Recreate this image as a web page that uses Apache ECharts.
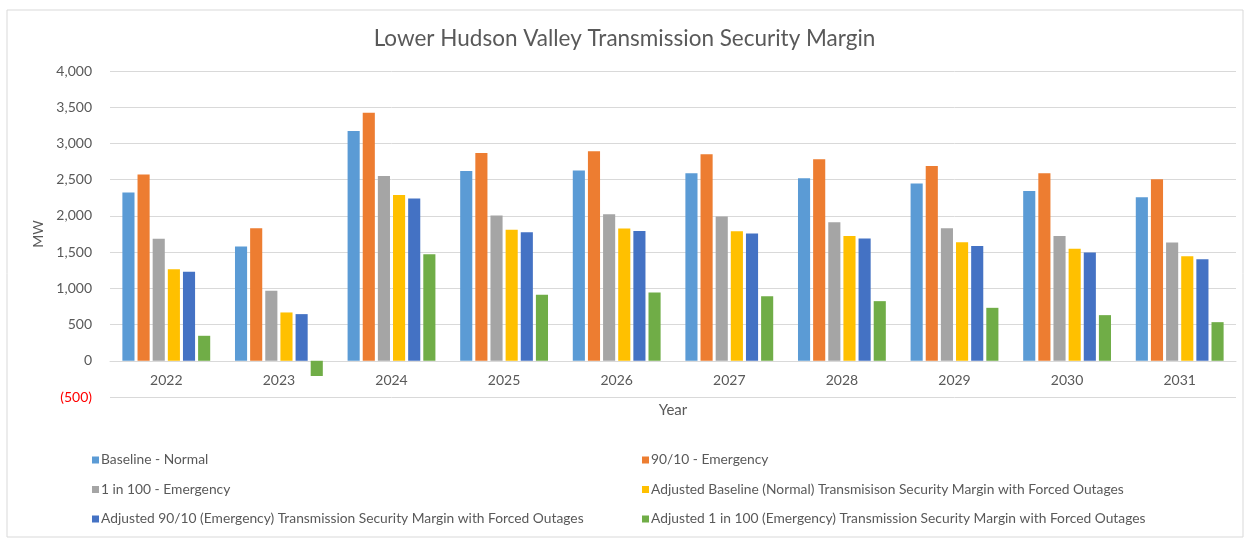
<!DOCTYPE html>
<html>
<head>
<meta charset="utf-8">
<script src="https://cdn.jsdelivr.net/npm/echarts@6/dist/echarts.min.js"></script>
<style>
  html, body { margin: 0; padding: 0; background: #ffffff; }
  #chart { width: 1249px; height: 540px; }
</style>
</head>
<body>
<div id="chart"></div>
<script>
// Years on the category axis
const years = ['2022', '2023', '2024', '2025', '2026', '2027', '2028', '2029', '2030', '2031'];

// Margin values in MW
const baselineNormal = [2322, 1577, 3173, 2621, 2625, 2589, 2520, 2446, 2345, 2258];
const emergency9010 = [2570, 1830, 3425, 2869, 2892, 2851, 2782, 2690, 2589, 2506];
const oneIn100Emergency = [1683, 966, 2552, 2005, 2023, 1991, 1913, 1830, 1724, 1632];
const adjBaselineNormal = [1264, 667, 2290, 1807, 1825, 1789, 1724, 1637, 1545, 1444];
const adj9010Emergency = [1228, 644, 2239, 1775, 1793, 1756, 1687, 1586, 1494, 1402];
const adjOneIn100Emergency = [345, -210, 1471, 910, 943, 892, 823, 731, 630, 533];

const seriesNames = [
  'Baseline - Normal',
  '90/10 - Emergency',
  '1 in 100 - Emergency',
  'Adjusted Baseline (Normal) Transmisison Security Margin with Forced Outages',
  'Adjusted 90/10 (Emergency) Transmission Security Margin with Forced Outages',
  'Adjusted 1 in 100 (Emergency) Transmission Security Margin with Forced Outages'
];
const seriesValues = [baselineNormal, emergency9010, oneIn100Emergency,
  adjBaselineNormal, adj9010Emergency, adjOneIn100Emergency];
const colors = ['#5B9BD5', '#ED7D31', '#A5A5A5', '#FFC000', '#4472C4', '#70AD47'];

const FONT = 'Lato, "Open Sans", sans-serif';
const TEXT = '#595959';

// Plot area geometry; the category axis is lifted from the bottom edge to the zero line
const GRID_TOP = 71;
const GRID_BOTTOM = 143;
const Y_MIN = -500;
const Y_MAX = 4000;
const plotHeight = 540 - GRID_TOP - GRID_BOTTOM;
const zeroOffset = -plotHeight * (0 - Y_MIN) / (Y_MAX - Y_MIN);

const chart = echarts.init(document.getElementById('chart'), null, { renderer: 'canvas' });

const legendCommon = {
  orient: 'vertical',
  itemWidth: 7,
  itemHeight: 7,
  itemGap: 15.5,
  icon: 'rect',
  textStyle: { fontFamily: FONT, fontSize: 13.8, color: TEXT, padding: [0, 0, 0, -3] },
  top: 448
};

chart.setOption({
  animation: false,
  color: colors,
  graphic: [{
    type: 'rect',
    shape: { x: 7, y: 10, width: 1236, height: 527 },
    style: { fill: 'none', stroke: '#d9d9d9', lineWidth: 1 },
    silent: true
  }],
  title: {
    text: 'Lower Hudson Valley Transmission Security Margin',
    left: 'center',
    top: 22,
    textStyle: { fontFamily: FONT, fontSize: 22.5, fontWeight: 'normal', color: TEXT }
  },
  legend: [
    Object.assign({}, legendCommon, { left: 87, data: [seriesNames[0], seriesNames[2], seriesNames[4]] }),
    Object.assign({}, legendCommon, { left: 637, data: [seriesNames[1], seriesNames[3], seriesNames[5]] })
  ],
  grid: { left: 110, right: 13, top: GRID_TOP, bottom: GRID_BOTTOM },
  xAxis: {
    type: 'category',
    data: years,
    offset: zeroOffset,
    name: 'Year',
    nameLocation: 'middle',
    nameGap: 42,
    nameTextStyle: { fontFamily: FONT, fontSize: 15, color: TEXT },
    axisLine: { onZero: false, lineStyle: { color: '#d9d9d9', width: 1 } },
    axisTick: { show: false },
    axisLabel: { fontFamily: FONT, fontSize: 14, color: TEXT, margin: 13 }
  },
  yAxis: {
    type: 'value',
    min: Y_MIN,
    max: Y_MAX,
    interval: 500,
    name: 'MW',
    nameLocation: 'middle',
    nameGap: 62,
    nameTextStyle: { fontFamily: FONT, fontSize: 14, color: TEXT },
    axisLine: { show: false },
    axisTick: { show: false },
    splitLine: { lineStyle: { color: '#d9d9d9', width: 1 } },
    axisLabel: {
      fontFamily: FONT,
      fontSize: 14,
      color: TEXT,
      margin: 18,
      formatter: function (v) {
        const s = Math.abs(v).toLocaleString('en-US');
        return v < 0 ? '{neg|(' + s + ')}' : s;
      },
      rich: { neg: { color: '#FF0000', fontFamily: FONT, fontSize: 14 } }
    }
  },
  series: seriesNames.map(function (name, i) {
    return {
      name: name,
      type: 'bar',
      data: seriesValues[i],
      barGap: '25%',
      barCategoryGap: '22%',
      itemStyle: { color: colors[i] }
    };
  })
});
</script>
</body>
</html>
